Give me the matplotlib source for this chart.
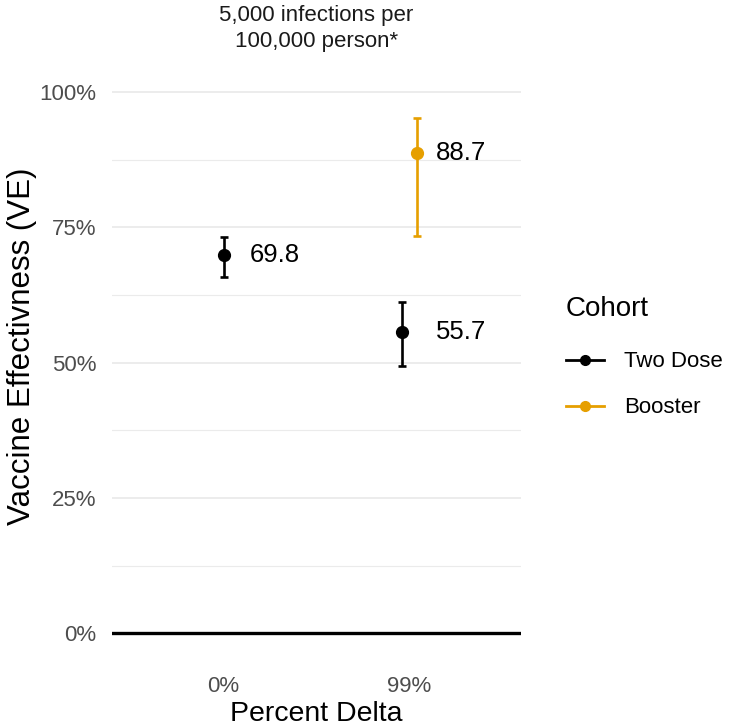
import matplotlib
matplotlib.use("Agg")
import matplotlib.pyplot as plt
import numpy as np

plt.rcParams['font.family'] = ['Liberation Sans', 'DejaVu Sans']

# data
categories = ['0%', '99%']
cohorts = ['Two Dose', 'Booster']
cohort_colors = {'Two Dose': '#000000', 'Booster': '#E69F00'}

# one row per point: category index, cohort, estimate and interval
cat_idx = [0, 1, 1]
cohort_of = ['Two Dose', 'Two Dose', 'Booster']
ve = [69.8, 55.7, 88.7]
ve_low = [65.8, 49.4, 73.4]
ve_high = [73.2, 61.2, 95.2]

y_ticks = [0, 25, 50, 75, 100]
y_minor = [12.5, 37.5, 62.5, 87.5]

dodge = {'Two Dose': -0.039, 'Booster': 0.039}
label_nudge = 0.14

fig = plt.figure(figsize=(7.3, 7.27), dpi=100)
ax = fig.add_axes([112 / 730, 1 - 643 / 727, 409 / 730, 588 / 727])

# grid
for y in y_ticks:
    ax.axhline(y, color='#EBEBEB', lw=1.3, zorder=0)
for y in y_minor:
    ax.axhline(y, color='#EBEBEB', lw=0.8, zorder=0)
ax.axhline(0, color='black', lw=2.4, zorder=1)

x_pos = np.arange(1, len(categories) + 1)
for i in range(len(ve)):
    c = cohort_of[i]
    x = x_pos[cat_idx[i]]
    xd = x + (dodge[c] if cat_idx[i] == 1 else 0)
    col = cohort_colors[c]
    ax.errorbar(xd, ve[i], yerr=[[ve[i] - ve_low[i]], [ve_high[i] - ve[i]]],
                fmt='o', color=col, ms=8.5, elinewidth=1.9, capsize=3.2,
                capthick=1.9, zorder=3)
    ax.text(x + label_nudge, ve[i], f'{ve[i]:.1f}', ha='left', va='center',
            fontsize=18.5, color='black')

# legend handles
for c in cohorts:
    ax.plot([], [], marker='o', color=cohort_colors[c], lw=2.0, ms=7, label=c)

ax.set_xlim(0.4, 2.6)
ax.set_ylim(-1.76, 106.8)
ax.set_xticks(x_pos)
ax.set_xticklabels(categories)
ax.set_yticks(y_ticks)
ax.set_yticklabels([f'{t}%' for t in y_ticks])
ax.tick_params(axis='both', length=0, labelsize=16, labelcolor='#4D4D4D')
ax.tick_params(axis='y', pad=11)
ax.tick_params(axis='x', pad=23.5)
for s in ax.spines.values():
    s.set_visible(False)

ax.set_xlabel('Percent Delta', fontsize=20.5)
ax.set_ylabel('Vaccine Effectivness (VE)', fontsize=22.5)
ax.xaxis.set_label_coords(0.5, -0.0986)
ax.yaxis.set_label_coords(-0.183, 0.505)

# strip-style title above the panel
fig.text(316.5 / 730, 1 - 4.5 / 727, '5,000 infections per\n100,000 person*',
         ha='center', va='top', fontsize=16, color='#1A1A1A', linespacing=1.34)

leg = ax.legend(title='Cohort', loc='upper left',
                bbox_to_anchor=(566 / 730, 1 - 296 / 727),
                bbox_transform=fig.transFigure, frameon=False,
                fontsize=16, title_fontsize=20, handlelength=1.7,
                handletextpad=0.9, labelspacing=1.13, borderpad=0,
                borderaxespad=0)
leg._legend_box.align = 'left'
leg._legend_box.sep += 3  # a bit more room under the title

fig.savefig('out.png', dpi=100)
